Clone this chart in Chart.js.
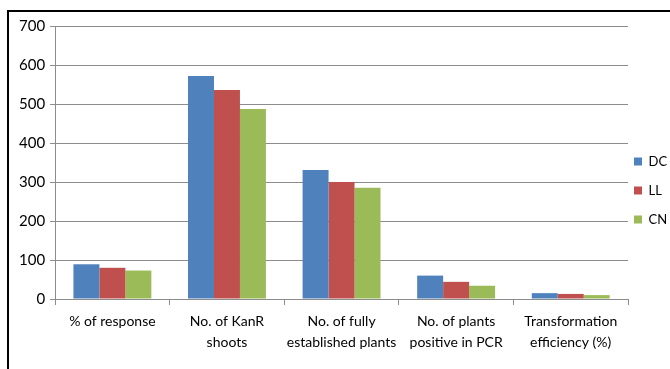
<!DOCTYPE html>
<html>
<head>
<meta charset="utf-8">
<script src="https://cdn.jsdelivr.net/npm/chart.js@4/dist/chart.umd.min.js"></script>
<style>
  html, body { margin: 0; padding: 0; background: #fff; }
  body { width: 670px; height: 369px; position: relative; overflow: hidden; }
  #frame {
    position: absolute; left: 7px; top: 10px; width: 669px; height: 359px;
    border-left: 2px solid #000; border-top: 2px solid #000; box-sizing: border-box;
  }
  #wrap { position: absolute; left: 0; top: 0; width: 667px; height: 357px; }
</style>
</head>
<body>
<div id="frame"><div id="wrap"><canvas id="c"></canvas></div></div>
<script>
// Categories along the x axis (multi-line labels)
const categories = [
  ['% of response'],
  ['No. of KanR', 'shoots'],
  ['No. of fully', 'established plants'],
  ['No. of plants', 'positive in PCR'],
  ['Transformation', 'efficiency (%)']
];
// Series values
const dcValues = [89, 572, 331, 60, 15];
const llValues = [80, 536, 300, 44, 13];
const cnValues = [73, 487, 285, 34, 10];
// Y axis ticks
const yTicks = [0, 100, 200, 300, 400, 500, 600, 700];

const FONT = "Lato, 'Open Sans', 'Liberation Sans', sans-serif";
const LEGEND_WIDTH = 46;   // space reserved for the legend column on the right
const LEGEND_GAP = 6;      // gap between plot edge and legend swatches

// Keeps the reserved legend column narrow and places its swatches close to the plot.
const compactLegend = {
  id: 'compactLegend',
  afterInit(chart) {
    const legend = chart.legend;
    if (!legend) return;
    const origFit = legend.fit.bind(legend);
    legend.fit = function () {
      origFit();
      this.width = LEGEND_WIDTH;
    };
  },
  afterLayout(chart) {
    const legend = chart.legend;
    if (!legend) return;
    const pad = legend.options.labels.padding;
    legend.left = chart.chartArea.right + LEGEND_GAP - pad;
    legend.width = 80;
    legend.right = legend.left + legend.width;
  }
};

new Chart(document.getElementById('c'), {
  type: 'bar',
  data: {
    labels: categories,
    datasets: [
      { label: 'DC', data: dcValues, backgroundColor: '#4F81BD' },
      { label: 'LL', data: llValues, backgroundColor: '#C0504D' },
      { label: 'CN', data: cnValues, backgroundColor: '#9BBB59' }
    ]
  },
  plugins: [compactLegend],
  options: {
    responsive: true,
    maintainAspectRatio: false,
    animation: false,
    layout: { padding: { left: 5, right: 2, top: 10, bottom: 10 } },
    datasets: { bar: { categoryPercentage: 0.68, barPercentage: 1.0 } },
    plugins: {
      tooltip: { enabled: false },
      legend: {
        position: 'right',
        align: 'center',
        labels: {
          boxWidth: 8, boxHeight: 8, padding: 16,
          color: '#000',
          font: { family: FONT, size: 13 }
        }
      }
    },
    scales: {
      x: {
        grid: { drawOnChartArea: false, color: '#8c8c8c', tickLength: 6, offset: true },
        border: { color: '#8c8c8c' },
        ticks: {
          color: '#000', maxRotation: 0, autoSkip: false, padding: 6,
          font: { family: FONT, size: 14, lineHeight: 1.5 }
        }
      },
      y: {
        min: 0, max: 700,
        afterBuildTicks: (axis) => { axis.ticks = yTicks.map(v => ({ value: v })); },
        grid: { color: '#8c8c8c', tickLength: 5 },
        border: { color: '#8c8c8c' },
        ticks: {
          color: '#000', padding: 5,
          font: { family: FONT, size: 15 }
        }
      }
    }
  }
});
</script>
</body>
</html>
